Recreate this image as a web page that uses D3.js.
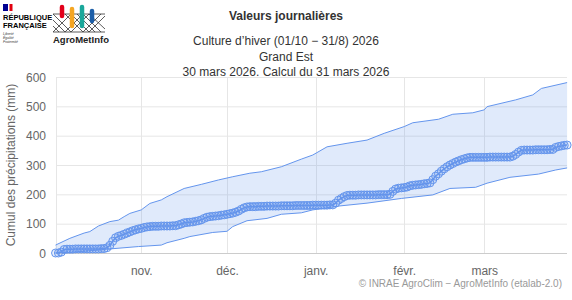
<!DOCTYPE html>
<html>
<head>
<meta charset="utf-8">
<script src="https://cdn.jsdelivr.net/npm/d3@7"></script>
<style>
  body { margin: 0; background: #fff; }
  svg { font-family: "Liberation Sans", Arial, sans-serif; display: block; }
</style>
</head>
<body>
<script>
// cumulative rain (mm) of the season, one value per day from 2 Oct 2025 to 30 Mar 2026
var observed = [
  0, 0, 3, 12, 13, 13, 13, 14, 14, 14, 14, 14, 14, 14, 14, 14, 15, 15, 18, 26,
  40, 52, 57, 60, 64, 68, 72, 76, 79, 82, 84, 87, 89, 90, 91, 91, 91, 92, 92, 92,
  92, 93, 93, 96, 99, 103, 104, 105, 106, 108, 110, 113, 118, 122, 124, 125, 126, 127, 129, 130,
  132, 134, 136, 139, 143, 149, 154, 157, 158, 158, 158, 159, 159, 159, 160, 160, 160, 160, 160, 161,
  161, 161, 161, 161, 162, 162, 162, 162, 162, 162, 163, 163, 163, 163, 163, 163, 164, 164, 170, 180,
  186, 192, 196, 197, 197, 197, 198, 198, 198, 198, 198, 198, 198, 199, 199, 199, 199, 200, 210, 218,
  221, 222, 223, 225, 229, 231, 232, 233, 234, 236, 237, 239, 250, 262, 270, 279, 287, 294, 300, 305,
  310, 314, 318, 321, 324, 326, 326, 326, 326, 326, 326, 326, 327, 327, 327, 327, 327, 327, 327, 327,
  330, 336, 344, 350, 351, 351, 351, 351, 352, 352, 352, 352, 352, 353, 353, 360, 363, 365, 367, 368
];

// envelope of past seasons (day number since 1 Oct, value in mm)
var maxDays = [1, 6, 11, 13, 16, 20, 23, 25, 27, 31, 34, 38, 40, 46, 52, 58, 63, 69, 73, 80, 87, 91, 96, 103, 110, 116, 123, 126, 135, 140, 147, 151, 152, 162, 168, 171, 180];
var maxVals = [27, 50, 68, 73, 92, 107, 112, 124, 135, 147, 169, 181, 192, 220, 234, 249, 260, 272, 277, 294, 320, 334, 362, 374, 385, 408, 431, 444, 456, 473, 478, 488, 499, 522, 539, 561, 581];
var minDays = [1, 10, 19, 30, 38, 40, 46, 48, 56, 61, 63, 68, 75, 80, 87, 91, 100, 110, 122, 133, 139, 148, 152, 160, 170, 176, 180];
var minVals = [0, 5, 13, 22, 27, 35, 50, 56, 70, 74, 90, 110, 118, 132, 137, 147, 160, 170, 186, 198, 220, 224, 238, 258, 269, 283, 290];

var yTicks = [0, 100, 200, 300, 400, 500, 600];
var monthTicks = [new Date(Date.UTC(2025, 10, 1)), new Date(Date.UTC(2025, 11, 1)), new Date(Date.UTC(2026, 0, 1)),
                  new Date(Date.UTC(2026, 1, 1)), new Date(Date.UTC(2026, 2, 1))];
var monthLabels = ["nov.", "déc.", "janv.", "févr.", "mars"];

var titles = ["Culture d\u2019hiver (01/10 \u2212 31/8) 2026", "Grand Est", "30 mars 2026. Calcul du 31 mars 2026"];

var seasonStart = Date.UTC(2025, 9, 1);
function dayDate(n) { return new Date(seasonStart + n * 864e5); }

var width = 572, height = 300;
var plot = {left: 56, right: 567, top: 77, bottom: 253};

var svg = d3.select("body").append("svg")
    .attr("width", width)
    .attr("height", height);

var x = d3.scaleUtc()
    .domain([dayDate(0), dayDate(180)])
    .range([52.7, 567.1]);
var y = d3.scaleLinear().domain([0, 600]).range([plot.bottom, plot.top]);

// gridlines
svg.append("g").selectAll("line").data(yTicks.slice(1)).enter().append("line")
    .attr("x1", plot.left).attr("x2", plot.right)
    .attr("y1", function(d) { return y(d) + 0.5; }).attr("y2", function(d) { return y(d) + 0.5; })
    .attr("stroke", "#e6e6e6");

svg.append("g").selectAll("line").data(monthTicks).enter().append("line")
    .attr("x1", function(d) { return Math.round(x(d)) + 0.5; }).attr("x2", function(d) { return Math.round(x(d)) + 0.5; })
    .attr("y1", plot.top).attr("y2", plot.bottom)
    .attr("stroke", "#e6e6e6");

svg.append("line")
    .attr("x1", plot.left + 0.5).attr("x2", plot.left + 0.5)
    .attr("y1", plot.top).attr("y2", plot.bottom)
    .attr("stroke", "#e6e6e6");

// envelope band
var maxPts = maxDays.map(function(d, i) { return {date: dayDate(d), v: maxVals[i]}; });
var minPts = minDays.map(function(d, i) { return {date: dayDate(d), v: minVals[i]}; });

var lineGen = d3.line()
    .x(function(d) { return x(d.date); })
    .y(function(d) { return y(d.v); });

var bandPath = lineGen(maxPts) + "L" + lineGen(minPts.slice().reverse()).slice(1) + "Z";
svg.append("path")
    .attr("d", bandPath)
    .attr("fill", "#6495ed")
    .attr("fill-opacity", 0.2);

svg.append("path").attr("d", lineGen(maxPts))
    .attr("fill", "none").attr("stroke", "#6495ed").attr("stroke-width", 1);
svg.append("path").attr("d", lineGen(minPts))
    .attr("fill", "none").attr("stroke", "#6495ed").attr("stroke-width", 1);

// x axis line
svg.append("line")
    .attr("x1", plot.left).attr("x2", plot.right)
    .attr("y1", plot.bottom + 0.5).attr("y2", plot.bottom + 0.5)
    .attr("stroke", "#ccc");

// observed season
var obsPts = observed.map(function(v, i) { return {date: dayDate(i + 1), v: v}; });

svg.append("path").attr("d", lineGen(obsPts))
    .attr("fill", "none").attr("stroke", "#6495ed").attr("stroke-width", 1.5);

svg.append("g").selectAll("circle").data(obsPts).enter().append("circle")
    .attr("cx", function(d) { return x(d.date); })
    .attr("cy", function(d) { return y(d.v); })
    .attr("r", 4)
    .attr("fill", "#6495ed").attr("fill-opacity", 0.15)
    .attr("stroke", "#6495ed").attr("stroke-width", 1);

// y axis
var yAxis = d3.axisLeft(y).tickValues(yTicks).tickSize(0).tickPadding(0);
var gy = svg.append("g").attr("transform", "translate(46,0)").call(yAxis);
gy.select(".domain").remove();
gy.selectAll("text").attr("fill", "#666").style("font-size", "12px")
    .style("font-family", "'Liberation Sans', Arial, sans-serif").attr("dy", "0.35em");

svg.append("text")
    .attr("transform", "translate(15," + ((plot.top + plot.bottom) / 2) + ") rotate(-90)")
    .attr("text-anchor", "middle")
    .attr("fill", "#666")
    .style("font-size", "12px")
    .text("Cumul des précipitations (mm)");

// x axis labels
var xAxis = d3.axisBottom(x).tickValues(monthTicks).tickSize(0).tickPadding(0)
    .tickFormat(function(d, i) { return monthLabels[i]; });
var gx = svg.append("g").attr("transform", "translate(0,266)").call(xAxis);
gx.select(".domain").remove();
gx.selectAll("text").attr("fill", "#666").style("font-size", "12px")
    .style("font-family", "'Liberation Sans', Arial, sans-serif").attr("dy", "0.71em");

// titles
svg.append("text")
    .attr("x", 286).attr("y", 20)
    .attr("text-anchor", "middle")
    .attr("fill", "#333")
    .style("font-size", "12px").style("font-weight", "bold")
    .text("Valeurs journalières");

svg.selectAll(".sub").data(titles).enter().append("text")
    .attr("class", "sub")
    .attr("x", 286)
    .attr("y", function(d, i) { return 45 + i * 15.5; })
    .attr("text-anchor", "middle")
    .attr("fill", "#333")
    .style("font-size", "12px")
    .text(function(d) { return d; });

// credits
svg.append("text")
    .attr("x", 562).attr("y", 287)
    .attr("text-anchor", "end")
    .attr("fill", "#999")
    .style("font-size", "10px")
    .text("© INRAE AgroClim \u2212 AgroMetInfo (etalab-2.0)");

// logos
var logo = svg.append("g");
logo.append("rect").attr("x", 3).attr("y", 4).attr("width", 5).attr("height", 7).attr("fill", "#000091");
logo.append("rect").attr("x", 8).attr("y", 4).attr("width", 2).attr("height", 7).attr("fill", "#fff");
logo.append("rect").attr("x", 9.5).attr("y", 4).attr("width", 3).attr("height", 7).attr("fill", "#e1000f");
logo.append("text").attr("x", 3).attr("y", 20).attr("fill", "#000")
    .style("font-size", "7.5px").style("font-weight", "bold").text("RÉPUBLIQUE");
logo.append("text").attr("x", 3).attr("y", 28).attr("fill", "#000")
    .style("font-size", "7.5px").style("font-weight", "bold").text("FRANÇAISE");
["Liberté", "Égalité", "Fraternité"].forEach(function(t, i) {
  logo.append("text").attr("x", 3).attr("y", 35 + i * 4).attr("fill", "#333")
      .style("font-size", "3.5px").style("font-style", "italic").text(t);
});

var agro = svg.append("g");
var hatch = "M53,14L71,32L89,14L105,29M53,26L59,32M53,20L65,32L83,14L101,32M53,32L71,14L89,32L105,16M65,14L83,32L101,14M77,14L95,32M53,14L105,14M53,32L105,32";
agro.append("path").attr("d", hatch).attr("fill", "none").attr("stroke", "#333").attr("stroke-width", 0.8);
[["#e2001a", 62, 5, 18], ["#f5a623", 72, 7, 28], ["#1aa79a", 82, 5, 28], ["#1d5fa8", 92, 9, 23]].forEach(function(b) {
  agro.append("line").attr("x1", b[1]).attr("x2", b[1]).attr("y1", b[2] + 2).attr("y2", b[3] - 2)
      .attr("stroke", b[0]).attr("stroke-width", 4.5).attr("stroke-linecap", "round");
});
agro.append("text").attr("x", 53).attr("y", 43).attr("fill", "#222")
    .style("font-size", "9.5px").style("font-weight", "bold").text("AgroMetInfo");
</script>
</body>
</html>
